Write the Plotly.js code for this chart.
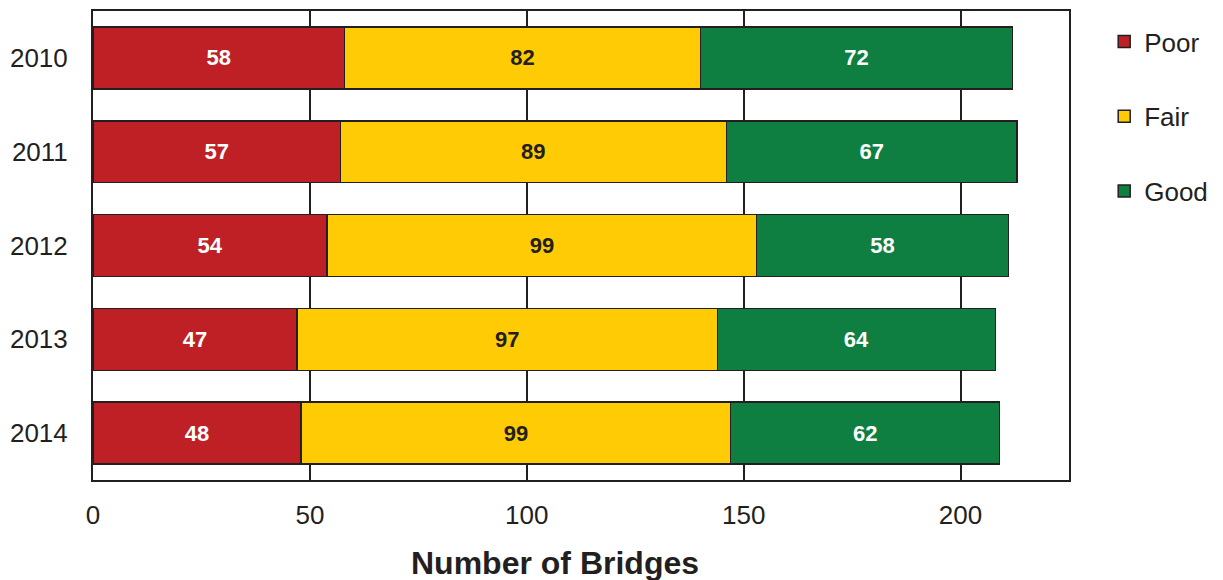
<!DOCTYPE html>
<html>
<head>
<meta charset="utf-8">
<script src="https://cdn.plot.ly/plotly-3.0.1.min.js"></script>
<style>html,body{margin:0;padding:0;background:#fff;}#chart{width:1223px;height:580px;}</style>
</head>
<body>
<div id="chart"></div>
<script>
const years = ["2010", "2011", "2012", "2013", "2014"];
const poor = [58, 57, 54, 47, 48];
const fair = [82, 89, 99, 97, 99];
const good = [72, 67, 58, 64, 62];
const seriesNames = ["Poor", "Fair", "Good"];
const xTicks = [0, 50, 100, 150, 200];
const xTitle = "Number of Bridges";

const colors = ["#BE2026", "#FFCB05", "#0E7E41"];
const textColors = ["#FFFFFF", "#231F20", "#FFFFFF"];
const dark = "#231F20";
const series = [poor, fair, good];

const traces = series.map((vals, i) => ({
  type: "bar",
  orientation: "h",
  name: seriesNames[i],
  legendgroup: "g" + i,
  y: years,
  x: vals,
  text: vals.map(String),
  textposition: "inside",
  insidetextanchor: "middle",
  textangle: 0,
  constraintext: "none",
  textfont: {family: "Liberation Sans, Arial, sans-serif", size: 22, color: textColors[i], weight: "bold"},
  marker: {color: colors[i], line: {color: dark, width: 1.5}},
  width: 0.66,
  hoverinfo: "x+name"
}));

const layout = {
  width: 1223,
  height: 580,
  margin: {l: 93, r: 153, t: 11, b: 100},
  barmode: "stack",
  paper_bgcolor: "#fff",
  plot_bgcolor: "#fff",
  font: {family: "Liberation Sans, Arial, sans-serif", color: dark, size: 26},
  showlegend: true,
  legend: {
    x: 1.035, xanchor: "left", y: 0.985, yanchor: "top",
    traceorder: "grouped",
    tracegroupgap: 38,
    font: {size: 26, color: dark},
    itemwidth: 30
  },
  xaxis: {
    range: [0, 225],
    tickvals: xTicks,
    ticktext: xTicks.map(String),
    showgrid: true,
    gridcolor: dark,
    gridwidth: 1.5,
    zeroline: false,
    showline: true,
    linecolor: dark,
    linewidth: 2,
    mirror: true,
    ticks: "",
    ticklabelstandoff: 11,
    tickfont: {size: 26, color: dark},
    fixedrange: true
  },
  yaxis: {
    type: "category",
    autorange: "reversed",
    showgrid: false,
    zeroline: false,
    showline: true,
    linecolor: dark,
    linewidth: 2,
    mirror: true,
    ticks: "",
    ticklabelstandoff: 18,
    tickfont: {size: 26, color: dark},
    fixedrange: true
  },
  annotations: [{
    text: "<b>" + xTitle + "</b>",
    xref: "paper", yref: "paper",
    x: (555 - 93) / (1070 - 93), y: -0.177,
    xanchor: "center", yanchor: "middle",
    showarrow: false,
    font: {size: 32, color: dark}
  }]
};

Plotly.newPlot("chart", traces, layout, {displayModeBar: false});
</script>
</body>
</html>
